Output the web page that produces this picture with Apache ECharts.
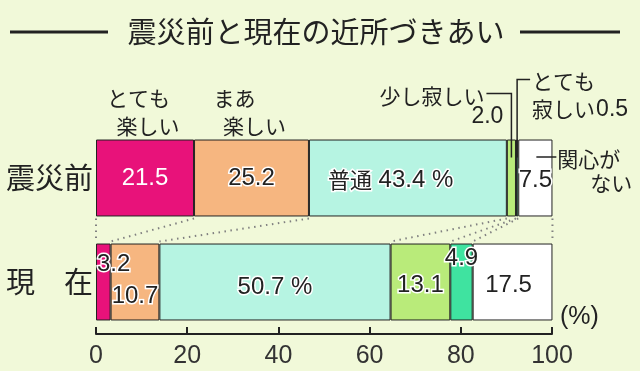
<!DOCTYPE html>
<html><head><meta charset="utf-8">
<script src="https://cdn.jsdelivr.net/npm/echarts@6/dist/echarts.min.js"></script>
<style>html,body{margin:0;padding:0;background:#f1f9d9}#c{width:640px;height:371px}</style>
</head><body><div id="c"></div>
<script>
const titleText = '震災前と現在の近所づきあい';
const categories = ['震災前', '現　在'];
const segments = ['とても楽しい', 'まあ楽しい', '普通', '少し寂しい', 'とても寂しい', '関心がない'];
const before = [21.5, 25.2, 43.4, 2.0, 0.5, 7.5];
const now = [3.2, 10.7, 50.7, 13.1, 4.9, 17.5];
const xTicks = [0, 20, 40, 60, 80, 100];
const axisUnit = '(%)';

const NUM = '"Liberation Sans Narrow","Arial Narrow","Liberation Sans",sans-serif';
const JP = '"Noto Sans CJK JP",sans-serif';
const colors = ['#e8127a', '#f6b680', '#b6f4e2', '#b9eb7a', '#3fe3a0', '#ffffff'];
const DARK = '#222';

function cum(arr) { const out = [0]; arr.forEach(v => out.push(+(out[out.length - 1] + v).toFixed(1))); return out; }
const BAR_FRAC = 0.74;

const baseLabel = { show: true, position: 'inside', fontFamily: NUM, fontSize: 24, color: DARK, textBorderColor: '#fff', textBorderWidth: 3 };
const labelCfg = [
  [ { color: '#fff', textBorderWidth: 0 }, { position: [1, 21], align: 'left', verticalAlign: 'middle' } ],
  [ {}, { offset: [0, 14] } ],
  [ { position: 'insideLeft', distance: 19, offset: [0, 2], formatter: p => `{j|普通} {n|${p.value.toFixed(1)} %}`,
      rich: { j: { fontFamily: JP, fontSize: 22, color: DARK, textBorderColor: '#fff', textBorderWidth: 3 },
              n: { fontFamily: NUM, fontSize: 24, color: DARK, textBorderColor: '#fff', textBorderWidth: 3 } } },
    { offset: [0, 5], formatter: p => `${p.value.toFixed(1)} %` } ],
  [ { show: false }, { offset: [0, 3] } ],
  [ { show: false }, { offset: [0, -24] } ],
  [ { offset: [0, 2] }, { offset: [-4, 3] } ]
];

const barSeries = segments.map((name, i) => ({
  name, type: 'bar', stack: 'total', barCategoryGap: '26%',
  itemStyle: { color: colors[i], borderColor: DARK, borderWidth: 1 },
  data: [before[i], now[i]].map((v, r) => ({ value: v, label: Object.assign({}, baseLabel, labelCfg[i][r]) })),
  emphasis: { disabled: true }, z: 2
}));

function renderAnno(params, api) {
  const band = api.size([0, 1])[1];
  const half = band * BAR_FRAC / 2;
  const c0 = cum(before), c1 = cum(now);
  const ch = [];
  const yc0 = api.coord([0, 0])[1];
  const y0b = yc0 + half, top0 = yc0 - half;
  const y1t = api.coord([0, 1])[1] - half;
  const X = (v, r) => api.coord([v, r || 0])[0];
  for (let i = 0; i < c0.length; i++) {
    ch.push({ type: 'line', shape: { x1: X(c0[i], 0), y1: y0b + 2, x2: X(c1[i], 1), y2: y1t - 2 },
      style: { stroke: '#808080', lineWidth: 2, lineDash: [1.5, 4.5] } });
  }
  const jp = (text, x, y, align, size) => ({ type: 'text', style: { text, x, y, align: align || 'left', verticalAlign: 'middle', fontFamily: JP, fontSize: size || 21, fill: DARK } });
  const num = (text, x, y, align, size) => ({ type: 'text', style: { text, x, y, align: align || 'left', verticalAlign: 'middle', fontFamily: NUM, fontSize: size || 23, fill: DARK } });
  const line = (pts) => ({ type: 'polyline', shape: { points: pts }, style: { stroke: DARK, lineWidth: 1.5, fill: null } });
  const names1 = [['とても', '楽しい'], ['まあ', '楽しい']];
  names1.forEach((n, i) => {
    const cx = X((c0[i] + c0[i + 1]) / 2);
    ch.push(jp(n[0], cx - 38, top0 - 42));
    ch.push(jp(n[1], cx + 3, top0 - 14, 'center'));
  });
  const xs = X((c0[3] + c0[4]) / 2);
  ch.push(line([[xs - 25, top0 - 46], [xs, top0 - 46], [xs, top0 + 18]]));
  ch.push(jp('少し寂しい', xs - 27, top0 - 44, 'right'));
  ch.push(num(before[3].toFixed(1), xs - 8, top0 - 23, 'right'));
  const xt = X((c0[4] + c0[5]) / 2);
  ch.push(line([[xt + 13, top0 - 60], [xt, top0 - 60], [xt, top0 + 18]]));
  ch.push(jp('とても', xt + 15, top0 - 59));
  ch.push(jp('寂しい', xt + 15, top0 - 31));
  ch.push(num(before[4].toFixed(1), xt + 79, top0 - 30));
  const xk = X((c0[5] + c0[6]) / 2);
  ch.push(line([[xk + 1, yc0 - 21], [xk + 21, yc0 - 21]]));
  ch.push(jp('関心が', xk + 22, yc0 - 19));
  ch.push(jp('ない', xk + 97, yc0 + 5, 'right'));
  return { type: 'group', children: ch };
}

const chart = echarts.init(document.getElementById('c'), null, { renderer: 'canvas' });
chart.setOption({
  backgroundColor: '#f1f9d9',
  animation: false,
  graphic: [
    { type: 'line', shape: { x1: 10, y1: 32, x2: 108, y2: 32 }, style: { stroke: DARK, lineWidth: 3 } },
    { type: 'line', shape: { x1: 520, y1: 32, x2: 620, y2: 32 }, style: { stroke: DARK, lineWidth: 3 } },
    { type: 'text', x: 316, y: 32, style: { text: titleText, align: 'center', verticalAlign: 'middle', fontFamily: JP, fontSize: 29, fill: DARK } }
  ],
  grid: { left: 96, right: 88, top: 126, bottom: 37, containLabel: false },
  xAxis: {
    type: 'value', min: xTicks[0], max: xTicks[xTicks.length - 1], interval: xTicks[1] - xTicks[0],
    name: axisUnit, nameLocation: 'end', nameGap: 8,
    nameTextStyle: { fontFamily: NUM, fontSize: 25, color: DARK, verticalAlign: 'bottom', padding: [0, 0, 4, 0] },
    axisLine: { show: true, lineStyle: { color: DARK, width: 2 } },
    axisTick: { show: true, inside: true, length: 7, lineStyle: { color: DARK, width: 2 } },
    axisLabel: { fontFamily: NUM, fontSize: 25, color: '#333', margin: 10 },
    splitLine: { show: false }
  },
  yAxis: {
    type: 'category', data: categories, inverse: true,
    axisLine: { show: false }, axisTick: { show: false },
    axisLabel: { fontFamily: JP, fontSize: 29, color: DARK, margin: 3 }
  },
  series: barSeries.concat([{
    type: 'custom', coordinateSystem: 'cartesian2d', renderItem: renderAnno,
    data: [[0, 0]], clip: false, silent: true, z: 5
  }])
});
</script>
</body></html>
